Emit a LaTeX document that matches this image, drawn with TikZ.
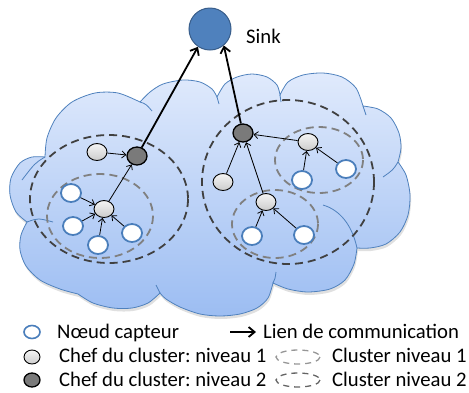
\documentclass[tikz,border=0pt]{standalone}
\usepackage{fontspec}
\setmainfont{Carlito}
\frenchspacing
\usetikzlibrary{shapes.geometric,arrows.meta}
\definecolor{sensorblue}{RGB}{74,126,187}
\definecolor{cloudedge}{RGB}{79,129,189}
\definecolor{cloudtop}{RGB}{224,234,252}
\definecolor{cloudbot}{RGB}{156,189,242}
\definecolor{sinkblue}{RGB}{79,129,189}
\definecolor{sinkedge}{RGB}{56,93,138}
\definecolor{headgray}{RGB}{122,122,122}
\definecolor{darkdash}{RGB}{64,64,64}
\definecolor{graydash}{RGB}{128,128,128}
\definecolor{legdashone}{RGB}{150,150,150}
\definecolor{legdashtwo}{RGB}{100,100,100}
\begin{document}
\begin{tikzpicture}[x=1pt,y=-1pt,
  sensor/.style={ellipse,draw=sensorblue,line width=1.8pt,fill=white,minimum width=20pt,minimum height=18pt,inner sep=0pt},
  headone/.style={ellipse,draw=black,line width=0.9pt,top color=gray!8,bottom color=gray!40,minimum width=20pt,minimum height=17pt,inner sep=0pt},
  headtwo/.style={ellipse,draw=black,line width=1.3pt,fill=headgray,minimum width=20pt,minimum height=18pt,inner sep=0pt},
  link/.style={draw=black,line width=0.8pt,-{Straight Barb[length=4pt,width=7pt]}},
  biglink/.style={draw=black,line width=1.8pt,-{Straight Barb[length=6pt,width=10pt]}},
  lvltwo/.style={draw=darkdash,line width=1.8pt,dash pattern=on 8pt off 5pt},
  lvlone/.style={draw=graydash,line width=1.8pt,dash pattern=on 8pt off 5pt},
  lbl/.style={font=\fontsize{20.7}{25}\selectfont,anchor=base west,inner sep=0pt},
  inner/.style={draw=cloudedge,line width=0.8pt}
]
\useasboundingbox (0,0) rectangle (469,392);
% cloud
\path[preaction={fill=black,opacity=0.12,transform canvas={shift={(1pt,-3pt)}}},
      top color=cloudtop,bottom color=cloudbot,draw=cloudedge,line width=0.8pt]
  plot[smooth] coordinates {(45,157) (47,138) (56,118) (72,102) (95,93) (118,93) (140,102)}
  -- plot[smooth] coordinates {(140,102) (150,92) (163,84) (183,80) (200,82) (212,89) (217,97)}
  -- plot[smooth] coordinates {(217,97) (225,84) (237,77) (252,74) (267,77) (277,85) (280,95)}
  -- plot[smooth] coordinates {(280,95) (288,82) (303,75) (323,73) (342,77) (356,88) (363,106)}
  -- plot[smooth] coordinates {(363,106) (378,109) (391,118) (399,133) (401,148) (398,162)}
  -- plot[smooth] coordinates {(398,162) (406,175) (410,195) (408,215) (400,232) (386,244) (370,248) (357,248)}
  -- plot[smooth] coordinates {(357,248) (354,264) (345,280) (330,289) (308,292) (288,289) (273,283)}
  -- plot[smooth] coordinates {(273,283) (268,298) (257,308) (240,314) (220,316) (200,314) (180,307) (166,299) (160,293)}
  -- plot[smooth] coordinates {(160,293) (148,303) (132,308) (113,308) (93,303) (78,294)}
  -- plot[smooth] coordinates {(78,294) (60,289) (40,280) (26,266) (20,250) (21,235) (27,222)}
  -- plot[smooth] coordinates {(27,222) (16,212) (10,195) (11,178) (20,163) (32,157) (45,157)}
  -- cycle;
% inner arcs of the cloud
\draw[inner] (140,102) .. controls (146,104) .. (152,111);
\draw[inner] (217,97) .. controls (218,100) .. (219,104);
\draw[inner] (280,95) .. controls (281,98) .. (281,102);
\draw[inner] (363,106) .. controls (365,110) .. (366,115);
\draw[inner] (398,162) .. controls (393,170) .. (383,177);
\draw[inner] (357,248) .. controls (352,225) and (340,210) .. (323,205);
\draw[inner] (273,283) .. controls (275,279) .. (276,272);
\draw[inner] (160,293) .. controls (158,289) .. (156,285);
\draw[inner] (27,222) .. controls (38,218) .. (53,222);
\draw[inner] (45,157) .. controls (35,163) .. (22,180);
% clusters
\draw[lvltwo] (109,199) ellipse [x radius=79, y radius=64];
\draw[lvltwo] (288,182) ellipse [x radius=86, y radius=82];
\draw[lvlone] (100,216) ellipse [x radius=53, y radius=42];
\draw[lvlone] (319,160) ellipse [x radius=44, y radius=33];
\draw[lvlone] (275,224) ellipse [x radius=43, y radius=34];
% nodes
\node[circle,fill=sinkblue,draw=sinkedge,line width=1pt,minimum size=42pt,inner sep=0pt] (sink) at (210,29) {};
\node[lbl] (sinklbl) at (246,43) {Sink};
\node[headtwo] (h2L) at (137,156) {};
\node[headone] (gL) at (97,152) {};
\node[headone] (h1L) at (104,209) {};
\node[sensor] (sL1) at (71,193) {};
\node[sensor] (sL2) at (73,226) {};
\node[sensor] (sL3) at (98,245) {};
\node[sensor] (sL4) at (132,233) {};
\node[headtwo] (h2R) at (243,133) {};
\node[headone] (h1T) at (308,142) {};
\node[headone] (gR) at (223,182) {};
\node[headone] (h1B) at (266,202) {};
\node[sensor] (sT1) at (302,180) {};
\node[sensor] (sT2) at (346,169) {};
\node[sensor] (sB1) at (252,236) {};
\node[sensor] (sB2) at (304,235) {};
% links
\draw[link] (sL1) -- (h1L);
\draw[link] (sL2) -- (h1L);
\draw[link] (sL3) -- (h1L);
\draw[link] (sL4) -- (h1L);
\draw[link] (h1L) -- (h2L);
\draw[link] (gL) -- (h2L);
\draw[link] (sT1) -- (h1T);
\draw[link] (sT2) -- (h1T);
\draw[link] (h1T) -- (h2R);
\draw[link] (gR) -- (h2R);
\draw[link] (h1B) -- (h2R);
\draw[link] (sB1) -- (h1B);
\draw[link] (sB2) -- (h1B);
\draw[biglink] (h2L) -- (sink.-124);
\draw[biglink] (h2R) -- (sink.-50);
% legend
\node[ellipse,draw=sensorblue,line width=1.6pt,fill=white,minimum width=16pt,minimum height=13pt,inner sep=0pt] (lg1) at (32,332) {};
\node[lbl] (lt1) at (57,338) {Nœud capteur};
\node[ellipse,draw=black,line width=0.9pt,top color=gray!8,bottom color=gray!40,minimum width=16pt,minimum height=14pt,inner sep=0pt] (lg2) at (32,357) {};
\node[lbl] (lt2) at (59,362) {Chef du cluster: niveau 1};
\node[ellipse,draw=black,line width=1.3pt,fill=headgray,minimum width=16pt,minimum height=14pt,inner sep=0pt] (lg3) at (32,380) {};
\node[lbl] (lt3) at (59,386) {Chef du cluster: niveau 2};
\coordinate (la1) at (230,332);
\coordinate (la2) at (256,332);
\draw[biglink] (la1) -- (la2);
\node[lbl] (lt4) at (263,338) {Lien de communication};
\draw[draw=legdashone,line width=1.3pt,dash pattern=on 6pt off 5pt] (298,357) ellipse [x radius=22, y radius=7];
\node[lbl] (lt5) at (332,362) {Cluster niveau 1};
\draw[draw=legdashtwo,line width=1.3pt,dash pattern=on 6pt off 5pt] (298,380) ellipse [x radius=22, y radius=7];
\node[lbl] (lt6) at (332,386) {Cluster niveau 2};
\end{tikzpicture}
\end{document}
